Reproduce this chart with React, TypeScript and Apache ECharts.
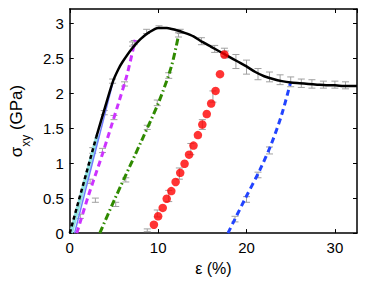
import React, { useEffect, useRef } from "react";
import * as echarts from "echarts";

// ---- data ----
const xTicks = [0, 10, 20, 30];
const yTicks = [0, 0.5, 1, 1.5, 2, 2.5, 3];

const mainCurve = [
  [3.0, 1.37], [4.0, 1.8], [4.9, 2.17], [5.5, 2.34], [6.0, 2.45], [7.0, 2.63],
  [8.0, 2.77], [9.0, 2.87], [10.0, 2.93], [11.0, 2.93], [12.0, 2.9], [13.0, 2.86],
  [14.0, 2.81], [15.0, 2.73], [16.0, 2.66], [17.0, 2.59], [18.0, 2.52], [19.0, 2.45],
  [20.0, 2.38], [21.0, 2.3], [22.0, 2.24], [23.0, 2.2], [24.0, 2.17], [25.0, 2.15],
  [26.0, 2.14], [27.0, 2.13], [28.0, 2.12], [29.0, 2.11], [30.0, 2.11], [31.0, 2.1],
  [32.5, 2.1],
];
const elasticDashed = [[0.0, 0.0], [3.0, 1.37]];
const elasticCyan = [[0.15, 0.0], [3.15, 1.4]];
const elasticBlue = [[0.55, 0.0], [4.9, 2.16]];
const purpleUnload = [[0.8, 0.0], [2.1, 0.53], [3.7, 1.13], [5.5, 1.85], [6.5, 2.27], [7.4, 2.76]];
const greenUnload = [[3.4, 0.0], [5.0, 0.46], [8.2, 1.34], [10.1, 1.88], [11.5, 2.38], [12.3, 2.82]];
const blueUnload = [[17.9, 0.0], [19.8, 0.48], [21.5, 0.9], [22.8, 1.27], [24.0, 1.7], [25.0, 2.16]];
const redPoints = [
  [9.52, 0.12], [10.0, 0.24], [10.52, 0.36], [10.97, 0.49], [11.49, 0.6], [11.98, 0.73],
  [12.5, 0.86], [12.99, 0.99], [13.5, 1.12], [14.0, 1.25], [14.5, 1.4], [15.0, 1.55],
  [15.5, 1.7], [16.0, 1.85], [16.5, 2.03], [17.0, 2.27], [17.5, 2.55],
];
// [x, y, half-length]
const errorBars = [
  [4.85, 2.17, 0.03], [7.1, 2.7, 0.03], [8.7, 2.88, 0.03], [10.1, 2.94, 0.02],
  [12.5, 2.88, 0.03], [14.9, 2.74, 0.05], [16.4, 2.63, 0.05], [17.6, 2.55, 0.05],
  [18.8, 2.45, 0.1], [20.0, 2.37, 0.1], [21.3, 2.27, 0.08], [22.6, 2.23, 0.07],
  [23.8, 2.19, 0.07], [25.0, 2.16, 0.07], [26.2, 2.14, 0.06], [27.4, 2.13, 0.06],
  [28.7, 2.12, 0.05], [30.0, 2.12, 0.05], [31.2, 2.11, 0.05],
  [1.2, 0.24, 0.03], [2.3, 0.74, 0.03], [2.6, 1.18, 0.04], [3.9, 1.72, 0.03],
  [2.9, 0.47, 0.03], [3.7, 1.18, 0.03], [5.0, 1.65, 0.03], [6.2, 2.13, 0.03], [7.3, 2.72, 0.03],
  [5.2, 0.41, 0.03], [6.34, 0.76, 0.03], [8.77, 1.51, 0.03], [9.9, 1.86, 0.04],
  [11.2, 2.25, 0.04], [12.3, 2.83, 0.03],
  [8.77, 0.04, 0.02], [9.9, 0.28, 0.05], [11.2, 0.53, 0.08], [12.4, 0.85, 0.08],
  [13.7, 1.2, 0.08], [15.0, 1.55, 0.07], [16.2, 1.95, 0.08], [17.5, 2.58, 0.06],
  [18.7, 0.2, 0.04], [20.0, 0.48, 0.04], [21.3, 0.83, 0.04], [22.6, 1.18, 0.05],
];

const FONT = "Liberation Sans, Arial, Helvetica, sans-serif";

export default function App() {
  const ref = useRef<HTMLDivElement>(null);
  useEffect(() => {
    if (!ref.current) return;
    const chart = echarts.init(ref.current, null, { renderer: "svg" });
    const axisLine = { show: true, onZero: false, lineStyle: { color: "#000", width: 1.5 } };
    const tick = { show: true, inside: true, length: 4, lineStyle: { color: "#000", width: 1 } };
    const greyStyle = { stroke: "#a0a0a0", lineWidth: 1 };
    chart.setOption({
      animation: false,
      backgroundColor: "#fff",
      grid: { left: 67, right: 17, top: 9, bottom: 43 },
      xAxis: [
        {
          type: "value", min: 0, max: 32.5, interval: 10, position: "bottom",
          axisLine, axisTick: tick, splitLine: { show: false },
          axisLabel: {
            color: "#000", fontSize: 15, fontFamily: FONT, margin: 7, showMaxLabel: false,
            formatter: (v: number) => (xTicks.includes(v) ? String(v) : ""),
          },
          name: "ε (%)", nameLocation: "middle", nameGap: 22,
          nameTextStyle: { color: "#000", fontSize: 16, fontFamily: FONT },
        },
        {
          type: "value", min: 0, max: 32.5, interval: 10, position: "top",
          axisLine, axisTick: tick, splitLine: { show: false }, axisLabel: { show: false },
        },
      ],
      yAxis: [
        {
          type: "value", min: 0, max: 3.2, interval: 0.5, position: "left",
          axisLine, axisTick: tick, splitLine: { show: false },
          axisLabel: {
            color: "#000", fontSize: 15, fontFamily: FONT, margin: 6, showMaxLabel: false,
            formatter: (v: number) => (yTicks.includes(v) ? String(v) : ""),
          },
          name: "{a|σ}{b|xy}{a| (GPa)}", nameLocation: "middle", nameGap: 33,
          nameTextStyle: {
            color: "#000", fontFamily: FONT,
            rich: {
              a: { fontSize: 17, fontFamily: FONT, color: "#000", lineHeight: 19, padding: [0, 0, 6, 0], verticalAlign: "top" },
              b: { fontSize: 12, fontFamily: FONT, color: "#000", lineHeight: 13, padding: [12, 0, 0, 0], verticalAlign: "top" },
            },
          },
        },
        {
          type: "value", min: 0, max: 3.2, interval: 0.5, position: "right",
          axisLine, axisTick: tick, splitLine: { show: false }, axisLabel: { show: false },
        },
      ],
      series: [
        {
          type: "custom", xAxisIndex: 0, yAxisIndex: 0, z: 1,
          data: errorBars,
          encode: { x: 0, y: 1 },
          renderItem: (params: any, api: any) => {
            const x = api.value(0), y = api.value(1), e = api.value(2);
            const t = api.coord([x, y + e]);
            const b = api.coord([x, Math.max(0, y - e)]);
            const w = 3.5;
            return {
              type: "group",
              children: [
                { type: "line", shape: { x1: t[0], y1: t[1], x2: b[0], y2: b[1] }, style: greyStyle },
                { type: "line", shape: { x1: t[0] - w, y1: t[1], x2: t[0] + w, y2: t[1] }, style: greyStyle },
                { type: "line", shape: { x1: b[0] - w, y1: b[1], x2: b[0] + w, y2: b[1] }, style: greyStyle },
              ],
            };
          },
        },
        {
          type: "line", data: elasticCyan, showSymbol: false, z: 2,
          lineStyle: { color: "#8fe3e0", width: 4 },
        },
        {
          type: "line", data: elasticBlue, showSymbol: false, z: 2,
          lineStyle: { color: "#6f7cff", width: 1.5 },
        },
        {
          type: "line", data: elasticDashed, showSymbol: false, z: 3,
          lineStyle: { color: "#000", width: 2.5, type: [4, 3] },
        },
        {
          type: "line", data: purpleUnload, showSymbol: false, smooth: 0.3, z: 3,
          lineStyle: { color: "#cc33ff", width: 3, type: [6, 4] },
        },
        {
          type: "line", data: greenUnload, showSymbol: false, smooth: 0.3, z: 3,
          lineStyle: { color: "#2f8a00", width: 3, type: [7, 3, 1.5, 3] },
        },
        {
          type: "line", data: blueUnload, showSymbol: false, smooth: 0.3, z: 3,
          lineStyle: { color: "#2244ff", width: 3, type: [6, 4] },
        },
        {
          type: "line", data: mainCurve, showSymbol: false, smooth: 0.25, z: 4,
          lineStyle: { color: "#000", width: 2.5 },
        },
        {
          type: "scatter", data: redPoints, symbol: "circle", symbolSize: 8.5, z: 5,
          itemStyle: { color: "#ff0000" },
        },
      ],
    });
    return () => chart.dispose();
  }, []);
  return (
    <div
      ref={ref}
      style={{ position: "fixed", left: 0, top: 0, width: 374, height: 281, background: "#fff" }}
    />
  );
}
